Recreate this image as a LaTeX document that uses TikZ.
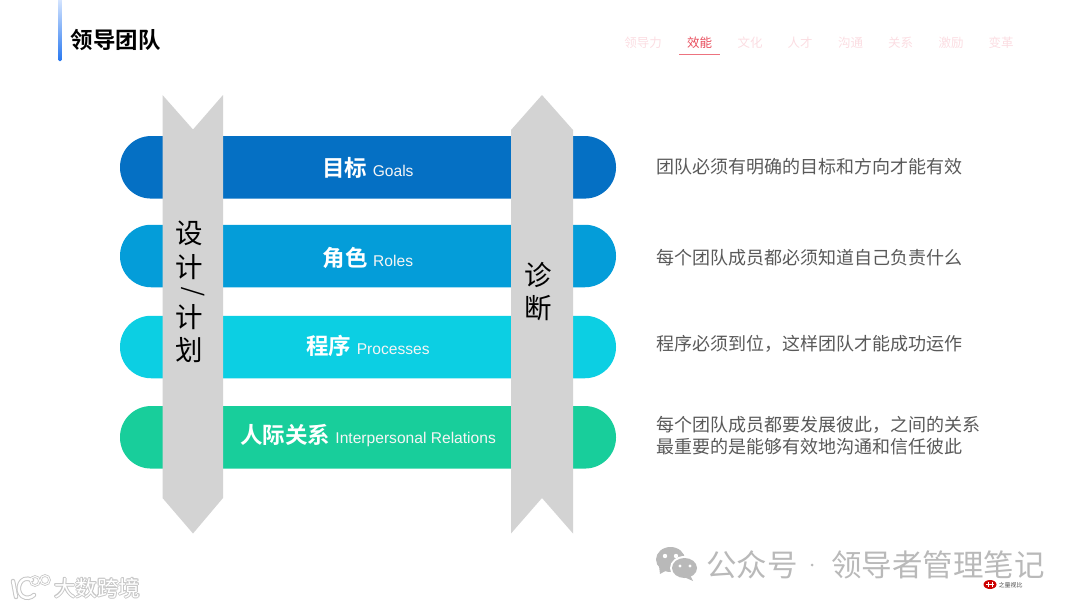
\documentclass[tikz,border=0pt]{standalone}
\usepackage{fontspec}
\setmainfont{Liberation Sans}
\newfontfamily\cjk{Noto Sans CJK SC}
\newfontfamily\cjkb{Noto Sans CJK SC Bold}
\usetikzlibrary{shapes.misc}
\definecolor{pillA}{HTML}{0570C4}
\definecolor{pillB}{HTML}{049DD9}
\definecolor{pillC}{HTML}{0CCFE3}
\definecolor{pillD}{HTML}{18CE9B}
\definecolor{ribbon}{HTML}{D3D3D3}
\definecolor{bodygray}{HTML}{595959}
\definecolor{navfaint}{HTML}{FBDDE2}
\definecolor{navred}{HTML}{E8505F}
\definecolor{wm}{HTML}{B9B9B9}
\definecolor{barTop}{HTML}{DCE9FF}
\definecolor{barBot}{HTML}{2878F0}
\tikzset{
 pill/.style={rectangle,rounded corners=31pt,minimum width=496pt,minimum height=62.5pt,inner sep=0pt,fill=#1},
 ribbonshape/.style={fill=ribbon,draw=none},
 pilltext/.style={text=white,anchor=center,inner sep=0pt},
 desc/.style={anchor=west,inner sep=0pt,text=bodygray,font=\cjk\fontsize{18}{22}\selectfont,align=left},
 navitem/.style={anchor=center,inner sep=0pt,text=navfaint,font=\cjk\fontsize{12.5}{14}\selectfont},
 vert/.style={anchor=center,inner sep=0pt,text=black,font=\cjk\fontsize{27.5}{33}\selectfont,align=center},
 wmtext/.style={anchor=west,inner sep=0pt,text=wm,font=\cjk\fontsize{30.5}{34}\selectfont},
 glow/.style={anchor=west,inner sep=0pt,text=black!22,font=\cjk\fontsize{21.5}{24}\selectfont},
 glowtop/.style={glow,text=white},
}
\newcommand{\zhbig}[1]{{\cjkb\fontsize{22.5}{26}\selectfont #1}}
\newcommand{\eng}[1]{{\hspace{2pt}\fontsize{15.6}{18}\selectfont\color{white!92!gray}#1}}
\begin{document}
\begin{tikzpicture}[x=1pt,y=-1pt]
\useasboundingbox (0,0) rectangle (1080,608);
% title bar
\shade[top color=barTop,bottom color=barBot,rounded corners=1.5pt] (58,-3) rectangle (62,61);
\node[anchor=west,inner sep=0pt,font=\cjkb\fontsize{22.5}{26}\selectfont] (title) at (70.5,40) {领导团队};
% nav
\node[navitem] (n1) at (643,42.5) {领导力};
\node[navitem,text=navred] (n2) at (699.5,42.5) {效能};
\node[navitem] (n3) at (750,42.5) {文化};
\node[navitem] (n4) at (800,42.5) {人才};
\node[navitem] (n5) at (850.5,42.5) {沟通};
\node[navitem] (n6) at (900.5,42.5) {关系};
\node[navitem] (n7) at (951,42.5) {激励};
\node[navitem] (n8) at (1001,42.5) {变革};
\draw[navred!80,line width=1pt] (679,54) -- (719.5,54);
% pills
\node[pill=pillA] (p1) at (368,167.3) {};
\node[pill=pillB] (p2) at (368,256) {};
\node[pill=pillC] (p3) at (368,347) {};
\node[pill=pillD] (p4) at (368,437.3) {};
% ribbons
\fill[ribbonshape] (162.5,95) -- (193,129.5) -- (223,95) -- (223,498) -- (193,533.5) -- (162.5,498) -- cycle;
\fill[ribbonshape] (542,95) -- (573,130) -- (573,533.5) -- (542,498) -- (511,533.5) -- (511,130) -- cycle;
\node[vert] (v1a) at (189.5,233) {设};
\node[vert] (v1b) at (189.5,267) {计};
\node[vert,rotate=90,font=\cjk\fontsize{24}{28}\selectfont] (v1c) at (193.5,291.5) {/};
\node[vert] (v1d) at (189.5,317) {计};
\node[vert] (v1e) at (189.5,350) {划};
\node[vert] (v2) at (538,291.5) {诊\\断};
% pill labels
\node[pilltext] (l1) at (368,167.5) {\zhbig{目标}\,\,\eng{Goals}};
\node[pilltext] (l2) at (368,257.5) {\zhbig{角色}\,\,\eng{Roles}};
\node[pilltext] (l3) at (368,346) {\zhbig{程序}\,\,\eng{Processes}};
\node[pilltext] (l4) at (368,436) {\zhbig{人际关系}\,\,\eng{Interpersonal Relations}};
% descriptions
\node[desc] (d1) at (656.5,166.5) {团队必须有明确的目标和方向才能有效};
\node[desc] (d2) at (656.5,257.5) {每个团队成员都必须知道自己负责什么};
\node[desc] (d3) at (656.5,343.5) {程序必须到位，这样团队才能成功运作};
\node[desc] (d4) at (656.5,435.5) {每个团队成员都要发展彼此，之间的关系\\最重要的是能够有效地沟通和信任彼此};
% wechat watermark
\fill[wm] (670.5,559.5) ellipse (14.5 and 12.5);
\fill[wm] (659,566) -- (660,574) -- (669,569) -- cycle;
\fill[white] (684.5,568) ellipse (14.5 and 12);
\fill[wm] (684.5,568) ellipse (12.5 and 10);
\fill[wm] (690,575) -- (693,581) -- (684,577) -- cycle;
\fill[white] (665,556) circle (2.2) (676,556) circle (2.2) (680,566) circle (1.7) (690,566) circle (1.7);
\node[wmtext] (wx) at (706,565) {公众号};
\fill[wm] (812,565) circle (1.5);
\node[wmtext] (wy) at (831,565) {领导者管理笔记};
% small logo
\fill[red!80!black] (990,584.5) ellipse (6.5 and 4.5);
\draw[white,line width=.5pt] (986,584.5) -- (994,584.5) (988,582) -- (988,587) (992,582) -- (992,587);
\node[anchor=west,inner sep=0pt,text=black!70,font=\cjk\fontsize{6}{7}\selectfont] (sm) at (998.5,585) {之量视比};
% lower-left watermark
\foreach \dx/\dy in {-1/0,1/0,0/-1,0/1,-.7/-.7,.7/.7,-.7/.7,.7/-.7}
  \node[glow] at (54+\dx,588+\dy) {大数跨境};
\node[glowtop] (wl) at (54,588) {大数跨境};
\begin{scope}[line cap=round]
\draw[black!22,line width=4.5pt] (13,581) -- (16,597);
\draw[black!22,line width=4.5pt] (32,580) .. controls (20,574) and (15,590) .. (22,596) .. controls (26,599) and (31,598) .. (34,595);
\draw[black!22,line width=2.6pt] (35,581) circle (4.5) (45,580) circle (4.5);
\draw[white,line width=2.5pt] (13,581) -- (16,597);
\draw[white,line width=2.5pt] (32,580) .. controls (20,574) and (15,590) .. (22,596) .. controls (26,599) and (31,598) .. (34,595);
\draw[white,line width=1pt] (35,581) circle (4.5) (45,580) circle (4.5);
\end{scope}
\end{tikzpicture}
\end{document}
